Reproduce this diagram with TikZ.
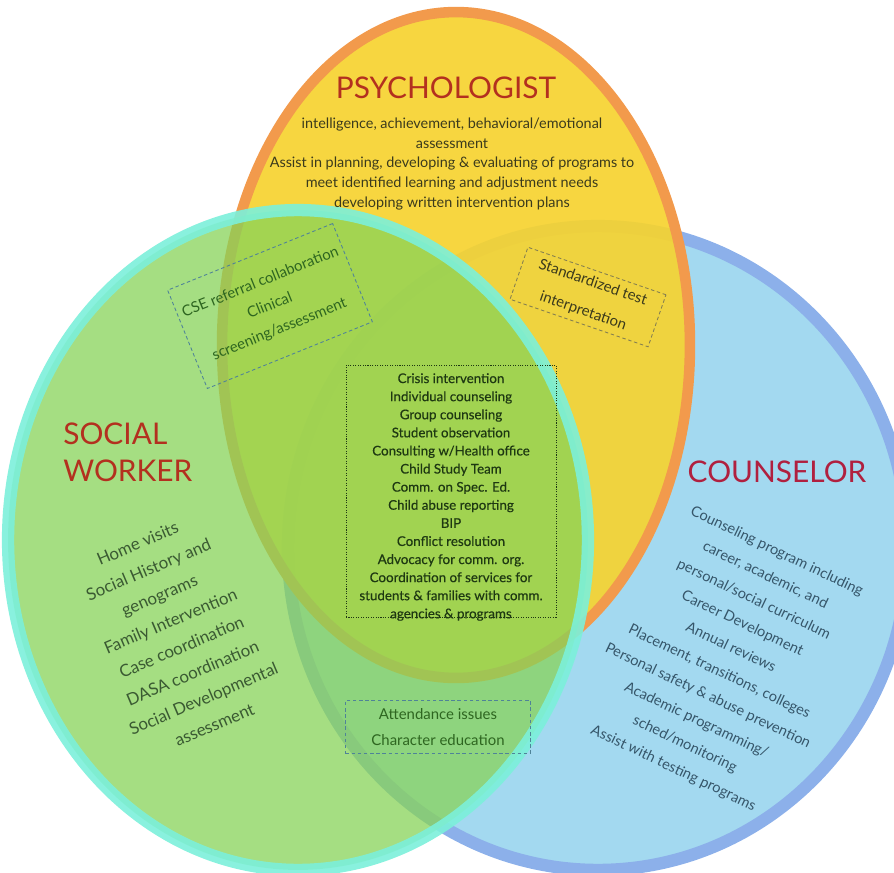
\documentclass[tikz,border=0pt]{standalone}
\usepackage{fontspec}
\setmainfont{Lato}
\newfontfamily\medfont{Lato}[FakeBold=0.4]
\definecolor{cofill}{HTML}{A3D9F0}
\definecolor{coline}{HTML}{8CB0EA}
\definecolor{psyfill}{HTML}{F6D330}
\definecolor{psyline}{HTML}{F29A4C}
\definecolor{swfill}{HTML}{87D358}
\definecolor{swline}{HTML}{7CF0DA}
\definecolor{titlered}{HTML}{B3301F}
\definecolor{titlecrimson}{HTML}{B0203F}
\definecolor{darkolive}{HTML}{3B3A1C}
\definecolor{darkgreen}{HTML}{2E6620}
\definecolor{leafgreen}{HTML}{1E3812}
\definecolor{slateblue}{HTML}{36566A}
\definecolor{sage}{HTML}{3A5A32}
\definecolor{steel}{HTML}{4F8398}
\definecolor{khaki}{HTML}{857F50}
\usetikzlibrary{positioning}

\begin{document}
\begin{tikzpicture}[x=0.02cm, y=-0.02cm,
  title/.style={font=\fontsize{17}{21}\selectfont, inner sep=0pt},
  list/.style={align=center, inner sep=0pt},
  dashbox/.style={draw=steel, dash pattern=on 2pt off 1.5pt, line width=0.5pt,
                  align=center, inner sep=0pt},
]
\useasboundingbox (0,0) rectangle (894,873);

% the three roles
\fill[cofill] (598,548) ellipse [x radius=6.2cm, y radius=6.44cm];
\draw[coline, line width=7pt] (598,548) ellipse [x radius=6.2cm, y radius=6.44cm];
\fill[psyfill, fill opacity=0.92] (456,345) ellipse [x radius=4.68cm, y radius=6.66cm];
\draw[psyline, line width=6pt] (456,345) ellipse [x radius=4.68cm, y radius=6.66cm];
\fill[swfill, fill opacity=0.75] (298,540) ellipse [x radius=5.8cm, y radius=6.6cm];
\draw[swline, line width=7pt, draw opacity=0.9] (298,540) ellipse [x radius=5.8cm, y radius=6.6cm];

% titles
\node[title, text=titlered] (psy) at (446,88) {PSYCHOLOGIST};
\node[title, text=titlered, align=left, anchor=west] (sw) at (63,452) {SOCIAL\\WORKER};
\node[title, text=titlecrimson] (co) at (777,472) {COUNSELOR};

% psychologist
\node[list, text=darkolive, font=\fontsize{8.2}{11.2}\selectfont] (psylist) at (452,164) {
  intelligence, achievement, behavioral/emotional\\
  assessment\\
  Assist in planning, developing \& evaluating of programs to\\
  meet identified learning and adjustment needs\\
  developing written intervention plans
};

% social worker
\node[list, text=sage, rotate=23, font=\fontsize{9.6}{16}\selectfont] (swlist) at (176,634) {
  Home visits\\
  Social History and\\
  genograms\\
  Family Intervention\\
  Case coordination\\
  DASA coordination\\
  Social Developmental\\
  assessment
};

% counselor
\node[list, text=slateblue, rotate=-25.5, font=\fontsize{8.3}{15.2}\selectfont] (colist) at (725,660) {
  Counseling program including\\
  career, academic, and\\
  personal/social curriculum\\
  Career Development\\
  Annual reviews\\
  Placement, transitions, colleges\\
  Personal safety \& abuse prevention\\
  Academic programming/\\
  sched/monitoring\\
  Assist with testing programs
};

% shared duties
\node[dashbox, text=darkgreen, rotate=22, minimum width=3.56cm, minimum height=2.12cm,
      font=\fontsize{8.5}{14.5}\selectfont] (swpsy) at (270,306) {
  CSE referral collaboration\\
  Clinical\\
  screening/assessment
};
\node[dashbox, draw=khaki, text=darkolive, rotate=-19, minimum width=2.92cm, minimum height=1.1cm,
      font=\fontsize{8.5}{17}\selectfont] (psyco) at (588,297) {
  Standardized test\\
  interpretation
};
\node[dashbox, draw=leafgreen, dash pattern=on 0.6pt off 0.8pt,
      minimum width=4.2cm, minimum height=5.04cm] (all) at (451,491) {};
\node[list, text=leafgreen, font=\medfont\fontsize{7.6}{10.3}\selectfont] (allitems) at (451,497) {
  Crisis intervention\\
  Individual counseling\\
  Group counseling\\
  Student observation\\
  Consulting w/Health office\\
  Child Study Team\\
  Comm. on Spec. Ed.\\
  Child abuse reporting\\
  BIP\\
  Conflict resolution\\
  Advocacy for comm. org.\\
  Coordination of services for\\
  students \& families with comm.\\
  agencies \& programs
};
\node[dashbox, text=darkgreen, minimum width=3.7cm, minimum height=1.06cm,
      font=\fontsize{8.5}{14.7}\selectfont] (swco) at (438,727) {
  Attendance issues\\
  Character education
};

\end{tikzpicture}
\end{document}
